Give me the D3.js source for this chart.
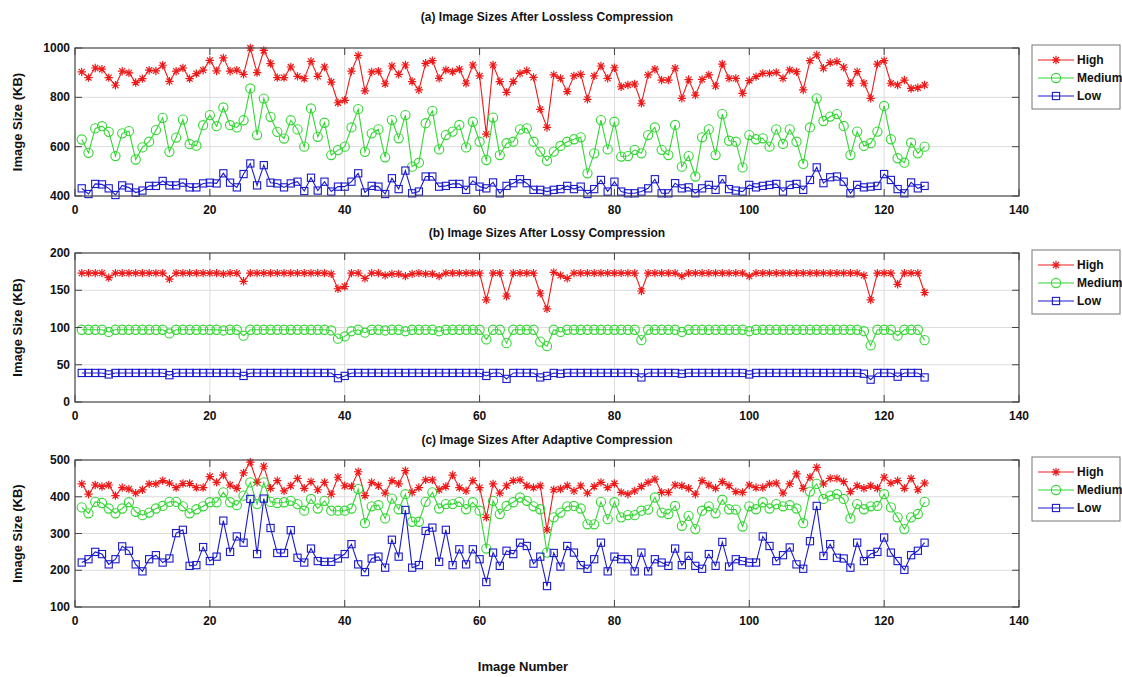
<!DOCTYPE html>
<html>
<head>
<meta charset="utf-8">
<script src="https://cdn.jsdelivr.net/npm/d3@7"></script>
<style>
  body { margin: 0; background: #fff; }
  text { font-family: "Liberation Sans", Arial, sans-serif; font-weight: bold; fill: #111; }
</style>
</head>
<body>
<div id="chart"></div>
<script>
const imageNumbers = d3.range(1, 127);
const seriesNames = ["High", "Medium", "Low"];
const xTicks = [0, 20, 40, 60, 80, 100, 120, 140];

const losslessHigh = [
  903, 880, 919, 914, 880, 849, 906, 899, 860, 876,
  910, 907, 930, 865, 906, 919, 876, 896, 910, 950,
  907, 960, 906, 910, 893, 1000, 900, 990, 937, 880,
  880, 923, 885, 876, 946, 885, 923, 862, 778, 788,
  906, 970, 826, 903, 906, 855, 927, 893, 931, 864,
  830, 938, 949, 877, 911, 904, 914, 857, 931, 887,
  651, 931, 864, 820, 864, 897, 908, 881, 751, 678,
  891, 877, 823, 887, 893, 792, 887, 927, 877, 920,
  843, 850, 854, 776, 891, 914, 870, 870, 918, 796,
  872, 809, 873, 891, 846, 935, 877, 877, 816, 868,
  884, 897, 897, 901, 877, 911, 904, 830, 949, 972,
  918, 941, 945, 922, 857, 904, 857, 796, 935, 949,
  857, 850, 870, 836, 839, 850
];
const losslessMedium = [
  629, 575, 674, 683, 660, 562, 654, 663, 548, 597,
  620, 667, 717, 579, 637, 710, 610, 604, 687, 728,
  683, 759, 687, 678, 707, 836, 647, 795, 721, 660,
  633, 707, 670, 600, 755, 640, 697, 566, 586, 600,
  678, 752, 579, 654, 670, 557, 708, 634, 728, 519,
  535, 695, 745, 589, 647, 661, 688, 597, 701, 620,
  546, 718, 566, 614, 620, 670, 674, 620, 580, 543,
  580, 603, 620, 630, 638, 492, 573, 708, 589, 701,
  560, 562, 587, 573, 647, 678, 587, 566, 688, 519,
  562, 479, 638, 670, 566, 732, 624, 620, 516, 647,
  630, 634, 600, 670, 611, 670, 620, 530, 678, 796,
  704, 722, 732, 684, 566, 661, 603, 614, 661, 765,
  630, 553, 535, 616, 573, 600
];
const losslessLow = [
  431, 408, 449, 447, 431, 404, 443, 434, 414, 422,
  441, 441, 461, 443, 443, 454, 435, 435, 451, 454,
  451, 492, 454, 435, 489, 532, 443, 525, 454, 451,
  435, 451, 458, 420, 474, 422, 458, 418, 438, 438,
  458, 492, 414, 441, 438, 408, 472, 428, 503, 411,
  418, 479, 479, 438, 441, 449, 449, 425, 462, 438,
  431, 455, 411, 441, 452, 468, 452, 425, 425, 418,
  425, 428, 441, 428, 438, 408, 428, 465, 418, 458,
  418, 411, 411, 418, 431, 468, 411, 411, 452, 431,
  435, 411, 431, 445, 425, 468, 428, 422, 418, 445,
  435, 441, 445, 449, 418, 445, 449, 425, 465, 516,
  452, 476, 479, 458, 411, 445, 435, 438, 441, 489,
  465, 428, 411, 455, 431, 441
];

const lossyHigh = [
  173, 173, 173, 173, 167, 173, 173, 173, 173, 173,
  173, 173, 173, 165, 173, 173, 173, 173, 173, 173,
  173, 172, 173, 173, 162, 173, 173, 173, 173, 173,
  173, 173, 173, 173, 173, 173, 173, 172, 152, 155,
  173, 173, 166, 173, 173, 170, 172, 172, 169, 172,
  173, 172, 172, 169, 173, 173, 173, 173, 173, 173,
  137, 173, 173, 142, 173, 173, 173, 173, 146, 125,
  174, 170, 166, 173, 173, 173, 173, 173, 173, 173,
  173, 173, 173, 149, 173, 173, 173, 173, 173, 169,
  173, 173, 173, 173, 173, 173, 173, 173, 173, 169,
  173, 173, 173, 173, 173, 173, 173, 173, 173, 173,
  173, 173, 173, 173, 173, 173, 170, 137, 173, 173,
  173, 158, 173, 173, 173, 147
];
const lossyMedium = [
  97, 97, 97, 97, 94, 97, 97, 97, 97, 97,
  97, 97, 97, 92, 97, 97, 97, 97, 97, 97,
  97, 96, 97, 97, 89, 97, 97, 97, 97, 97,
  97, 97, 97, 97, 97, 97, 97, 96, 85, 88,
  95, 97, 93, 97, 97, 96, 97, 97, 95, 97,
  97, 97, 97, 95, 97, 97, 97, 97, 97, 97,
  84, 97, 97, 79, 97, 97, 97, 97, 81, 75,
  97, 94, 97, 97, 97, 97, 97, 97, 97, 97,
  97, 97, 97, 83, 97, 97, 97, 97, 97, 94,
  97, 97, 97, 97, 97, 97, 97, 97, 97, 95,
  97, 97, 97, 97, 97, 97, 97, 97, 97, 97,
  97, 97, 97, 97, 97, 97, 95, 76, 97, 97,
  97, 89, 97, 97, 97, 83
];
const lossyLow = [
  39, 39, 39, 39, 37, 39, 39, 39, 39, 39,
  39, 39, 39, 36, 39, 39, 39, 39, 39, 39,
  39, 39, 39, 39, 35, 39, 39, 39, 39, 39,
  39, 39, 39, 39, 39, 39, 39, 39, 32, 35,
  39, 39, 39, 39, 39, 39, 39, 39, 39, 39,
  39, 39, 39, 39, 39, 39, 39, 39, 39, 39,
  35, 39, 39, 31, 39, 39, 39, 39, 33, 35,
  39, 38, 39, 39, 39, 39, 39, 39, 39, 39,
  39, 39, 39, 33, 39, 39, 39, 39, 39, 38,
  39, 39, 39, 39, 39, 39, 39, 39, 39, 37,
  39, 39, 39, 39, 39, 39, 39, 39, 39, 39,
  39, 39, 39, 39, 39, 39, 38, 30, 39, 39,
  39, 34, 39, 39, 39, 33
];

const adaptiveHigh = [
  435, 407, 432, 428, 432, 403, 425, 421, 410, 419,
  435, 435, 444, 437, 425, 436, 436, 425, 425, 455,
  439, 459, 432, 423, 465, 494, 439, 483, 423, 444,
  416, 430, 450, 423, 441, 419, 439, 407, 453, 430,
  428, 468, 403, 439, 430, 410, 444, 435, 471, 412,
  425, 446, 446, 419, 428, 459, 425, 416, 444, 425,
  344, 435, 410, 430, 444, 446, 430, 425, 430, 310,
  419, 421, 430, 416, 430, 410, 428, 439, 425, 436,
  412, 407, 416, 428, 439, 448, 412, 412, 432, 430,
  423, 407, 444, 432, 423, 441, 430, 414, 412, 432,
  425, 425, 435, 437, 410, 435, 462, 423, 453, 480,
  435, 450, 450, 441, 414, 430, 423, 430, 423, 453,
  437, 444, 423, 450, 419, 437
];
const adaptiveMedium = [
  371, 355, 386, 383, 368, 355, 368, 385, 359, 350,
  357, 368, 375, 386, 386, 374, 355, 366, 374, 385,
  385, 412, 385, 377, 403, 439, 380, 439, 386, 383,
  385, 389, 380, 362, 394, 368, 389, 362, 362, 362,
  368, 421, 328, 374, 377, 341, 395, 366, 407, 332,
  332, 386, 412, 368, 380, 380, 386, 366, 385, 362,
  259, 389, 353, 375, 385, 398, 389, 374, 366, 248,
  344, 357, 374, 375, 368, 325, 325, 386, 339, 385,
  344, 350, 350, 362, 365, 398, 357, 353, 375, 321,
  348, 312, 362, 374, 355, 392, 366, 365, 319, 374,
  366, 385, 368, 380, 374, 377, 368, 328, 414, 435,
  394, 403, 407, 394, 341, 380, 366, 374, 375, 407,
  371, 344, 312, 344, 353, 386
];
const adaptiveLow = [
  221, 230, 250, 244, 216, 230, 265, 253, 216, 197,
  230, 241, 221, 232, 301, 310, 212, 214, 263, 225,
  237, 335, 250, 292, 275, 394, 244, 395, 315, 247,
  247, 309, 234, 221, 259, 225, 223, 223, 232, 244,
  271, 216, 195, 232, 237, 207, 283, 237, 364, 207,
  214, 307, 316, 223, 310, 214, 257, 216, 257, 230,
  168, 248, 212, 253, 244, 275, 266, 218, 237, 157,
  247, 210, 266, 248, 214, 204, 230, 275, 197, 237,
  230, 230, 197, 248, 197, 230, 221, 212, 259, 214,
  239, 212, 204, 244, 212, 277, 210, 230, 225, 221,
  221, 292, 266, 225, 241, 262, 216, 204, 279, 375,
  239, 271, 234, 232, 207, 275, 225, 244, 250, 289,
  248, 225, 201, 241, 253, 275
];

const panels = [
  { title: "(a) Image Sizes After Lossless Compression", series: [losslessHigh, losslessMedium, losslessLow],
    domain: [400, 1000], ticks: [400, 600, 800, 1000], top: 48, bottom: 196, titleY: 21 },
  { title: "(b) Image Sizes After Lossy Compression", series: [lossyHigh, lossyMedium, lossyLow],
    domain: [0, 200], ticks: [0, 50, 100, 150, 200], top: 253, bottom: 402, titleY: 237 },
  { title: "(c) Image Sizes After Adaptive Compression", series: [adaptiveHigh, adaptiveMedium, adaptiveLow],
    domain: [100, 500], ticks: [100, 200, 300, 400, 500], top: 460, bottom: 607, titleY: 444 }
];

const colors = ["#ee1a1a", "#33d633", "#1a1acc"];
const left = 75, right = 1019;

const svg = d3.select("#chart").append("svg")
  .attr("width", 1122)
  .attr("height", 677);

const x = d3.scaleLinear().domain([0, 140]).range([left, right]);

function marker(g, kind, color) {
  if (kind === 0) {
    const r = 4.2, a = 3;
    g.append("path")
      .attr("d", `M${-r},0L${r},0M0,${-r}L0,${r}M${-a},${-a}L${a},${a}M${-a},${a}L${a},${-a}`)
      .attr("stroke", color).attr("stroke-width", 1.2).attr("fill", "none");
  } else if (kind === 1) {
    g.append("circle").attr("r", 4.6)
      .attr("stroke", color).attr("stroke-width", 1.1).attr("fill", "none");
  } else {
    g.append("rect").attr("x", -3.6).attr("y", -3.6).attr("width", 7.2).attr("height", 7.2)
      .attr("stroke", color).attr("stroke-width", 1.1).attr("fill", "none");
  }
}

panels.forEach((p) => {
  const y = d3.scaleLinear().domain(p.domain).range([p.bottom, p.top]);
  const g = svg.append("g");

  // grid
  g.selectAll(".gx").data(xTicks.slice(1, -1)).join("line")
    .attr("x1", (d) => x(d)).attr("x2", (d) => x(d))
    .attr("y1", p.top).attr("y2", p.bottom)
    .attr("stroke", "#dcdcdc").attr("stroke-width", 1);
  g.selectAll(".gy").data(p.ticks.slice(1, -1)).join("line")
    .attr("x1", left).attr("x2", right)
    .attr("y1", (d) => y(d)).attr("y2", (d) => y(d))
    .attr("stroke", "#dcdcdc").attr("stroke-width", 1);

  // lines and markers
  p.series.forEach((vals, si) => {
    const line = d3.line().x((d, i) => x(imageNumbers[i])).y((d) => y(d));
    g.append("path").datum(vals)
      .attr("d", line)
      .attr("fill", "none")
      .attr("stroke", colors[si])
      .attr("stroke-width", 1.1);
    g.append("g").selectAll("g").data(vals).join("g")
      .attr("transform", (d, i) => `translate(${x(imageNumbers[i])},${y(d)})`)
      .each(function () { marker(d3.select(this), si, colors[si]); });
  });

  // frame
  g.append("rect")
    .attr("x", left).attr("y", p.top)
    .attr("width", right - left).attr("height", p.bottom - p.top)
    .attr("fill", "none").attr("stroke", "#444").attr("stroke-width", 1.2);

  // inner ticks on all sides
  xTicks.forEach((t) => {
    g.append("line").attr("x1", x(t)).attr("x2", x(t)).attr("y1", p.bottom).attr("y2", p.bottom - 7)
      .attr("stroke", "#444");
    g.append("line").attr("x1", x(t)).attr("x2", x(t)).attr("y1", p.top).attr("y2", p.top + 7)
      .attr("stroke", "#444");
  });
  p.ticks.forEach((t) => {
    g.append("line").attr("x1", left).attr("x2", left + 7).attr("y1", y(t)).attr("y2", y(t))
      .attr("stroke", "#444");
    g.append("line").attr("x1", right).attr("x2", right - 7).attr("y1", y(t)).attr("y2", y(t))
      .attr("stroke", "#444");
  });

  // tick labels
  g.selectAll(".tx").data(xTicks).join("text")
    .attr("x", (d) => x(d)).attr("y", p.bottom + 18)
    .attr("text-anchor", "middle").attr("font-size", 12)
    .text((d) => d);
  g.selectAll(".ty").data(p.ticks).join("text")
    .attr("x", left - 5).attr("y", (d) => y(d) + 4)
    .attr("text-anchor", "end").attr("font-size", 12)
    .text((d) => d);

  // title
  g.append("text")
    .attr("x", (left + right) / 2).attr("y", p.titleY)
    .attr("text-anchor", "middle").attr("font-size", 12)
    .text(p.title);

  // y label
  g.append("text")
    .attr("transform", `translate(22,${(p.top + p.bottom) / 2}) rotate(-90)`)
    .attr("text-anchor", "middle").attr("font-size", 13)
    .text("Image Size (KB)");

  // legend
  const lg = g.append("g").attr("transform", `translate(1032,${p.top - 3})`);
  lg.append("rect").attr("width", 88).attr("height", 64)
    .attr("fill", "#fff").attr("stroke", "#777").attr("stroke-width", 1);
  seriesNames.forEach((name, si) => {
    const ry = 15 + si * 18;
    lg.append("line").attr("x1", 6).attr("x2", 42).attr("y1", ry).attr("y2", ry)
      .attr("stroke", colors[si]).attr("stroke-width", 1.1);
    marker(lg.append("g").attr("transform", `translate(24,${ry})`), si, colors[si]);
    lg.append("text").attr("x", 45).attr("y", ry + 4).attr("font-size", 12).text(name);
  });
});

svg.append("text")
  .attr("x", 523).attr("y", 671)
  .attr("text-anchor", "middle").attr("font-size", 13)
  .text("Image Number");
</script>
</body>
</html>
